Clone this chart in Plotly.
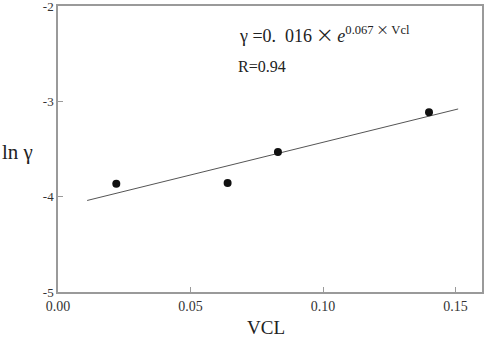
import plotly.graph_objects as go

vcl = [0.022, 0.064, 0.083, 0.140]
ln_gamma = [-3.865, -3.857, -3.531, -3.115]
fit_x = [0.011, 0.151]
fit_y = [-4.04, -3.08]
x_ticks = [0.00, 0.05, 0.10, 0.15]
x_tick_labels = ["0.00", "0.05", "0.10", "0.15"]
y_ticks = [-5, -4, -3, -2]
y_tick_labels = ["-5", "-4", "-3", "-2"]

font_family = "Liberation Serif, Times New Roman, serif"
axis_color = "#9a9a9a"
cjk = "<span style='font-family:Noto Sans CJK SC'>×</span>"

L, R, T, B = 58, 2, 6, 45
PW = 484 - L - R
PH = 337 - T - B

fig = go.Figure()
fig.add_trace(go.Scatter(x=fit_x, y=fit_y, mode="lines",
                         line=dict(color="#555555", width=1), showlegend=False))
fig.add_trace(go.Scatter(x=vcl, y=ln_gamma, mode="markers",
                         marker=dict(color="#111111", size=8), showlegend=False))

axis_common = dict(showgrid=False, zeroline=False, showline=True, mirror=True,
                   linecolor=axis_color, linewidth=1.5, ticks="inside", ticklen=5,
                   tickcolor=axis_color, automargin=False, ticklabeloverflow="allow")

fig.update_layout(
    template="none",
    width=484, height=337,
    margin=dict(l=L, r=R, t=T, b=B, pad=0),
    paper_bgcolor="white", plot_bgcolor="white",
    font=dict(family=font_family, color="#333333"),
    xaxis=dict(range=[0, 0.16], tickvals=x_ticks, ticktext=x_tick_labels,
               tickfont=dict(size=14, family=font_family, color="#333"), **axis_common),
    yaxis=dict(range=[-5, -2], tickvals=y_ticks, ticktext=y_tick_labels,
               tickfont=dict(size=13, family=font_family, color="#333"), **axis_common),
    annotations=[
        dict(text="γ =0.\u2002016\u2009" + cjk + "\u2009<i>e</i><sup>0.067\u2009" + cjk + "\u2009Vcl</sup>",
             xref="paper", yref="paper",
             x=(237 - L) / PW, y=1 - (33 - T) / PH, xanchor="left", yanchor="middle",
             showarrow=False, font=dict(size=18, family=font_family, color="#222")),
        dict(text="R=0.94", xref="paper", yref="paper",
             x=(236 - L) / PW, y=1 - (66 - T) / PH, xanchor="left", yanchor="middle",
             showarrow=False, font=dict(size=16, family=font_family, color="#222")),
        dict(text="ln γ", xref="paper", yref="paper",
             x=-L / PW, y=1 - (152 - T) / PH, xanchor="left", yanchor="middle",
             showarrow=False, font=dict(size=21, family=font_family, color="#222")),
        dict(text="VCL", xref="paper", yref="paper",
             x=(266 - L) / PW, y=-(327 - (337 - B)) / PH, xanchor="center", yanchor="middle",
             showarrow=False, font=dict(size=19, family=font_family, color="#222")),
    ],
)

fig.write_html("out.html", config={"displayModeBar": False},
               post_script="document.body.style.margin='0';document.body.style.overflow='hidden';")
